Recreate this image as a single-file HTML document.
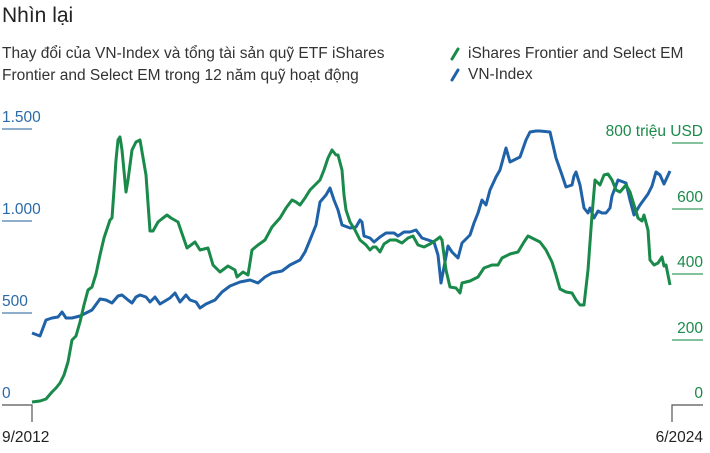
<!DOCTYPE html>
<html><head><meta charset="utf-8"><style>
body{margin:0;background:#fff;width:710px;height:448px;overflow:hidden;font-family:"Liberation Sans",sans-serif;}
</style></head><body>
<svg width="710" height="448" xmlns="http://www.w3.org/2000/svg" font-family="Liberation Sans, sans-serif">
<text x="2" y="22" font-size="21" fill="#222">Nhìn lại</text>
<text x="2" y="58" font-size="15.5" fill="#333">Thay đổi của VN-Index và tổng tài sản quỹ ETF iShares</text>
<text x="2" y="80" font-size="15.5" fill="#333">Frontier and Select EM trong 12 năm quỹ hoạt động</text>
<line x1="452" y1="59" x2="458" y2="49" stroke="#1a8a4a" stroke-width="3" stroke-linecap="round"/>
<text x="468" y="58" font-size="15.5" fill="#333">iShares Frontier and Select EM</text>
<line x1="452" y1="80" x2="458" y2="70" stroke="#1f62a8" stroke-width="3" stroke-linecap="round"/>
<text x="468" y="79" font-size="15.5" fill="#333">VN-Index</text>
<g fill="#2a6aa8" font-size="15.5">
<text x="2" y="122">1.500</text><text x="2" y="214">1.000</text><text x="2" y="306">500</text><text x="2" y="398">0</text>
</g>
<g stroke="#4a7fae" stroke-width="1.2">
<line x1="2" y1="129" x2="32" y2="129"/><line x1="2" y1="221" x2="32" y2="221"/><line x1="2" y1="313" x2="32" y2="313"/>
</g>
<g fill="#1a8a4a" font-size="15.5" text-anchor="end">
<text x="703" y="136">800 triệu USD</text><text x="703" y="202">600</text><text x="703" y="267">400</text><text x="703" y="333">200</text><text x="703" y="398">0</text>
</g>
<g stroke="#3a9a60" stroke-width="1.2">
<line x1="672" y1="143" x2="703" y2="143"/><line x1="672" y1="209" x2="703" y2="209"/><line x1="672" y1="274" x2="703" y2="274"/><line x1="672" y1="340" x2="703" y2="340"/>
</g>
<g stroke="#555" stroke-width="1.2" fill="none">
<polyline points="2,405 32,405 32,422"/>
<polyline points="703,405 672,405 672,422"/>
</g>
<text x="2" y="442" font-size="15.5" fill="#222">9/2012</text>
<text x="703" y="442" font-size="15.5" fill="#222" text-anchor="end">6/2024</text>
<polyline fill="none" stroke="#1f62a8" stroke-width="3" stroke-linejoin="round" points="32,333 40,336 46,320 52,318 58,317 62,312 66,318 72,318 80,316 86,313 92,310 100,299 106,300 112,303 118,296 122,295 128,300 132,303 136,297 140,295 146,297 150,302 155,297 160,304 170,298 175,293 180,302 186,295 190,300 196,302 200,308 206,304 215,300 222,292 230,286 240,282 250,280 258,283 265,277 272,273 282,271 290,265 300,260 305,252 310,240 316,225 320,202 326,195 330,188 334,200 338,210 342,225 350,228 356,227 360,220 362,222 364,236 370,238 374,242 380,237 386,233 394,233 398,236 404,232 410,232 416,230 422,238 428,240 434,242 438,255 441,283 448,246 452,252 458,258 462,243 470,235 474,223 478,213 482,200 486,205 490,190 496,177 500,170 506,148 510,162 514,160 520,157 526,140 530,132 536,131 540,131 550,132 556,158 562,175 566,187 572,185 574,176 576,172 580,185 584,208 588,213 590,208 594,218 598,211 602,213 606,213 610,208 612,196 618,180 626,183 630,200 634,215 640,205 648,194 652,186 656,172 660,175 664,184 670,171"/>
<polyline fill="none" stroke="#1a8a4a" stroke-width="3" stroke-linejoin="round" points="32,402 40,401 46,399 52,392 56,388 60,383 64,375 68,362 72,340 76,336 80,322 84,305 88,290 92,287 96,274 100,255 104,238 110,220 112,218 114,190 116,160 118,140 120,137 122,150 126,192 128,180 132,150 136,142 140,140 146,175 150,231 153,231 158,222 163,218 167,215 171,218 178,222 187,248 195,242 200,250 208,248 213,265 220,272 228,266 235,270 237,277 243,272 248,275 252,250 258,245 265,240 272,227 280,218 286,208 292,200 296,202 300,205 305,198 310,190 315,185 320,180 324,170 328,158 332,150 336,155 338,155 342,170 344,195 346,210 350,222 355,230 360,240 366,245 370,250 373,247 376,247 380,252 384,244 390,240 396,240 402,243 408,238 413,236 418,245 424,247 430,244 436,240 440,237 442,240 446,270 450,287 456,288 460,293 462,283 470,281 478,277 484,268 492,265 498,265 502,258 510,254 518,252 524,242 528,236 532,238 540,242 546,250 552,262 556,275 560,289 566,292 572,293 576,300 580,305 584,305 588,270 592,215 595,180 600,185 604,175 608,174 612,180 616,190 620,192 626,185 630,192 634,205 638,218 642,221 644,215 648,230 650,260 654,265 658,263 662,257 664,266 666,265 670,285"/>
</svg>
</body></html>
